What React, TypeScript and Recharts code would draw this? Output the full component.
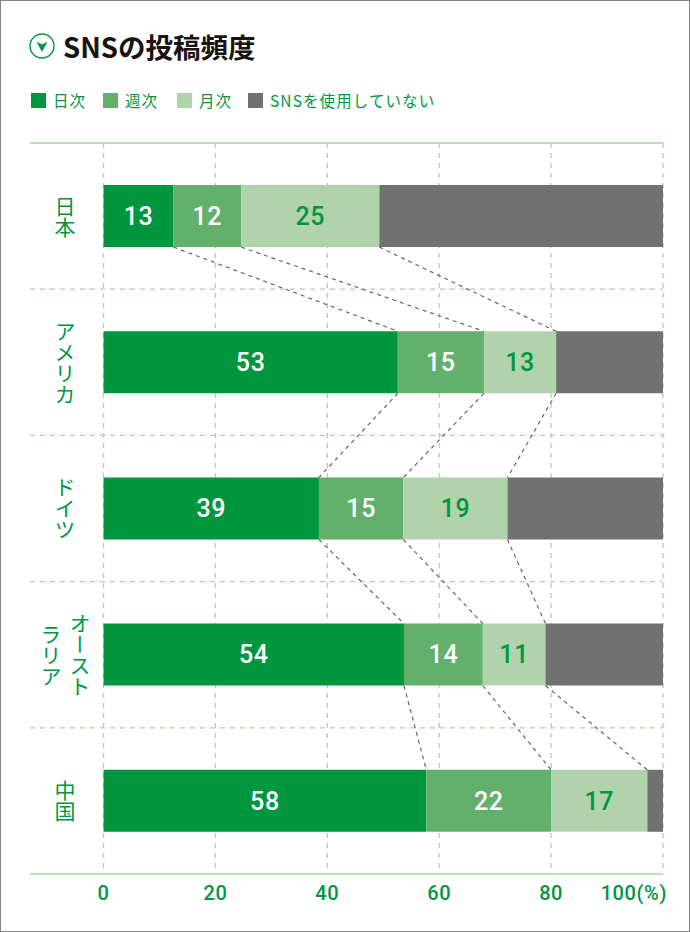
import React from 'react';
import { BarChart, Bar, XAxis, YAxis, CartesianGrid, ReferenceLine, LabelList, Legend } from 'recharts';

const categories = ['日本', 'アメリカ', 'ドイツ', 'オーストラリア', '中国'];
const daily = [12.5, 52.6, 38.5, 53.7, 57.7];
const weekly = [12.1, 15.4, 15.1, 14.1, 22.3];
const monthly = [24.7, 12.9, 18.6, 11.2, 17.2];
const none = [50.7, 19.1, 27.8, 21.0, 2.8];
const xTicks = [0, 20, 40, 60, 80, 100];
const seriesNames = ['日次', '週次', '月次', 'SNSを使用していない'];

const GREEN = '#009640';
const MID = '#63b06c';
const LIGHT = '#b1d3ac';
const GREY = '#717171';
const GRID = '#a9d6a2';
const JP = '"Noto Sans CJK JP", sans-serif';
const NUM = 'Roboto, sans-serif';

const data = categories.map((name, i) => ({ name, row: i + 0.5, daily: daily[i], weekly: weekly[i], monthly: monthly[i], none: none[i] }));

const cumulative = categories.map((_, i) => [daily[i], daily[i] + weekly[i], daily[i] + weekly[i] + monthly[i]]);
const BAR_HALF = 31 / 146.2;
const connectors = categories.slice(0, -1).flatMap((_, i) =>
  cumulative[i].map((edge, j) => ({
    key: `${i}-${j}`,
    from: { x: edge, y: i + 0.5 + BAR_HALF },
    to: { x: cumulative[i + 1][j], y: i + 1.5 - BAR_HALF },
  }))
);

const round = (v: any) => Math.round(Number(v));

function VText({ x, y, text }: { x: number; y: number; text: string }) {
  return (
    <text
      x={x}
      y={y}
      textAnchor="middle"
      fill={GREEN}
      fontFamily={JP}
      fontSize={21}
      style={{ writingMode: 'vertical-rl', textOrientation: 'upright' } as React.CSSProperties}
    >
      {text}
    </text>
  );
}

function CategoryTick({ y, payload }: any) {
  const v: string = payload.value;
  if (v === 'オーストラリア') {
    return (
      <g>
        <VText x={80} y={y} text="オースト" />
        <VText x={51} y={y} text="ラリア" />
      </g>
    );
  }
  return <VText x={65} y={y} text={v} />;
}

function ValueTick({ x, y, payload }: any) {
  const last = payload.value === 100;
  return (
    <text
      x={last ? x + 4 : x}
      y={y + 18}
      textAnchor={last ? 'end' : 'middle'}
      fill={GREEN}
      fontFamily={NUM}
      fontWeight={500}
      fontSize={20}
      letterSpacing={0.6}
    >
      {last ? '100(%)' : payload.value}
    </text>
  );
}

const legendX = [31, 103, 177, 248];

function LegendContent({ payload }: any) {
  return (
    <div style={{ position: 'relative', width: 690, height: 30 }}>
      {(payload || []).map((p: any, i: number) => (
        <div key={p.value} style={{ position: 'absolute', left: legendX[i], top: 0, display: 'flex', alignItems: 'center', height: 30 }}>
          <span style={{ display: 'inline-block', width: 15, height: 15, background: p.color, marginRight: 7 }} />
          <span style={{ color: GREEN, fontFamily: JP, fontSize: 15.5, letterSpacing: 1.1, whiteSpace: 'nowrap' }}>{p.value}</span>
        </div>
      ))}
    </div>
  );
}

const labelStyle = { fontFamily: NUM, fontWeight: 500, fontSize: 25, letterSpacing: 0.6 };

export default function App() {
  return (
    <div style={{ position: 'absolute', left: 0, top: 0, width: 690, height: 932, boxSizing: 'border-box', border: '1px solid #858585', background: '#fff', overflow: 'hidden' }}>
      <div style={{ position: 'absolute', left: -1, top: -1, width: 690, height: 932 }}>
        <svg width={30} height={30} style={{ position: 'absolute', left: 27, top: 31 }}>
          <circle cx={15} cy={15} r={12} fill="none" stroke={GREEN} strokeWidth={1.4} />
          <path d="M9.5 10.5 L15 13.5 L20.5 10.5 L15 21 Z" fill={GREEN} />
        </svg>
        <div style={{ position: 'absolute', left: 63, top: 27, fontFamily: JP, fontWeight: 700, fontSize: 27.5, lineHeight: '38px', color: '#1a1311', whiteSpace: 'nowrap' }}>
          SNSの投稿頻度
        </div>
        <BarChart
          width={690}
          height={932}
          data={data}
          layout="vertical"
          margin={{ top: 113, right: 27, bottom: 0, left: 29 }}
          barSize={62}
          style={{ position: 'absolute', left: 0, top: 0 }}
        >
          <CartesianGrid horizontal={false} vertical verticalValues={xTicks} stroke={GRID} strokeWidth={1.3} strokeDasharray="5 5" />
          <XAxis
            type="number"
            domain={[-13.14, 100]}
            allowDataOverflow
            ticks={xTicks}
            interval={0}
            tick={<ValueTick />}
            tickLine={false}
            axisLine={{ stroke: GRID, strokeWidth: 1.3 }}
            height={58}
          />
          <YAxis type="category" dataKey="name" width={1} interval={0} tick={<CategoryTick />} tickLine={false} axisLine={false} />
          <YAxis yAxisId="pos" dataKey="row" type="number" domain={[0, 5]} hide allowDataOverflow />
          <Legend content={<LegendContent />} verticalAlign="top" itemSorter={null} wrapperStyle={{ position: 'absolute', left: 0, top: 85, width: 690, height: 30 }} />
          <Bar dataKey="daily" name={seriesNames[0]} stackId="a" fill={GREEN} isAnimationActive={false}>
            <LabelList dataKey="daily" position="center" formatter={round} fill="#fff" {...labelStyle} />
          </Bar>
          <Bar dataKey="weekly" name={seriesNames[1]} stackId="a" fill={MID} isAnimationActive={false}>
            <LabelList dataKey="weekly" position="center" formatter={round} fill="#fff" {...labelStyle} />
          </Bar>
          <Bar dataKey="monthly" name={seriesNames[2]} stackId="a" fill={LIGHT} isAnimationActive={false}>
            <LabelList dataKey="monthly" position="center" formatter={round} fill={GREEN} {...labelStyle} />
          </Bar>
          <Bar dataKey="none" name={seriesNames[3]} stackId="a" fill={GREY} isAnimationActive={false} />
          <ReferenceLine yAxisId="pos" y={0} stroke={GRID} strokeWidth={1.3} />
          {[1, 2, 3, 4].map((v) => (
            <ReferenceLine key={v} yAxisId="pos" y={v} stroke={GRID} strokeWidth={1.3} strokeDasharray="5 5" />
          ))}
          {connectors.map((c) => (
            <ReferenceLine
              key={c.key}
              yAxisId="pos"
              segment={[c.from, c.to]}
              stroke="#666666"
              strokeWidth={1.2}
              strokeDasharray="4 4"
            />
          ))}
        </BarChart>
      </div>
    </div>
  );
}
